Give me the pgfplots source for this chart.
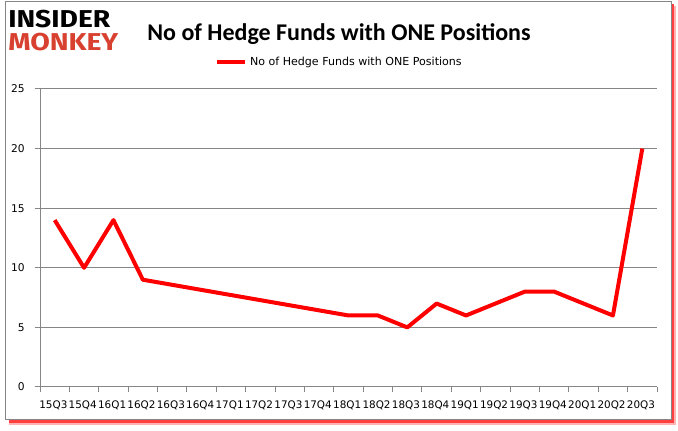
\documentclass[border=0pt]{standalone}
\usepackage{pgfplots}
\pgfplotsset{compat=1.18}
\usepackage{fontspec}
\setmainfont{DejaVu Sans}
\newfontfamily\titlefont{Carlito}
\newfontfamily\logofont{Fira Sans}
\definecolor{gridgray}{HTML}{868686}
\definecolor{logored}{HTML}{D8412F}
\begin{document}
\begin{tikzpicture}
\begin{scope}[x=0.75pt,y=0.75pt]
\path (0,0) rectangle (678,431);
% frame with red shadow
\fill[red!30] (9,6) rectangle (676,425);
\fill[red!75] (9,7.5) rectangle (674,427);
\fill[white,draw=gridgray,line width=0.75pt] (5,11) rectangle (671,429);
% logo
\node[anchor=north west,inner sep=0pt] at (8,421) {\resizebox{76.5pt}{13pt}{\logofont\bfseries INSIDER}};
\node[anchor=north west,inner sep=0pt] at (8,398) {\resizebox{82.5pt}{13pt}{\logofont\bfseries\color{logored}MONKEY}};
% title
\node[anchor=center,inner sep=0pt] at (339,397) {\titlefont\bfseries\fontsize{18pt}{20pt}\selectfont No of Hedge Funds with ONE Positions};
\end{scope}
\begin{axis}[
  at={(30pt,33pt)}, anchor=south west,
  scale only axis, width=462.75pt, height=223.5pt,
  xmin=-0.5, xmax=20.5, ymin=0, ymax=25,
  axis x line*=bottom, axis y line*=left,
  axis line style={gridgray,line width=0.75pt},
  /pgf/number format/assume math mode=true,
  xtick={0,...,20},
  xticklabels={15Q3,15Q4,16Q1,16Q2,16Q3,16Q4,17Q1,17Q2,17Q3,17Q4,18Q1,18Q2,18Q3,18Q4,19Q1,19Q2,19Q3,19Q4,20Q1,20Q2,20Q3},
  x tick label style={font=\fontsize{7.8pt}{9pt}\selectfont, inner sep=1pt, yshift=-5pt, xshift=-1pt},
  xtick style={draw=none},
  extra x ticks={-0.5,0.5,...,20.5},
  extra x tick labels={},
  extra x tick style={xtick style={draw=gridgray,line width=0.75pt}, major tick length=4pt, tick align=outside},
  ytick={0,5,...,25},
  y tick label style={font=\fontsize{8pt}{10pt}\selectfont, xshift=-4pt},
  ytick style={draw=gridgray,line width=0.75pt},
  tick align=outside, major tick length=4pt,
  ymajorgrids, grid style={gridgray,line width=0.75pt},
  legend style={at={(0.486,1.09)}, anchor=center, draw=none, fill=none, font=\fontsize{8.3pt}{10pt}\selectfont, inner sep=0pt},
  legend image code/.code={\draw[#1] (0pt,0pt) -- (21pt,0pt);},
  clip=false,
]
\addplot[red, line width=3pt, line join=round] coordinates {
(0,14)(1,10)(2,14)(3,9)(10,6)(11,6)(12,5)(13,7)(14,6)(15,7)(16,8)(17,8)(18,7)(19,6)(20,20)
};
\addlegendentry{No of Hedge Funds with ONE Positions}
\end{axis}
\end{tikzpicture}
\end{document}
